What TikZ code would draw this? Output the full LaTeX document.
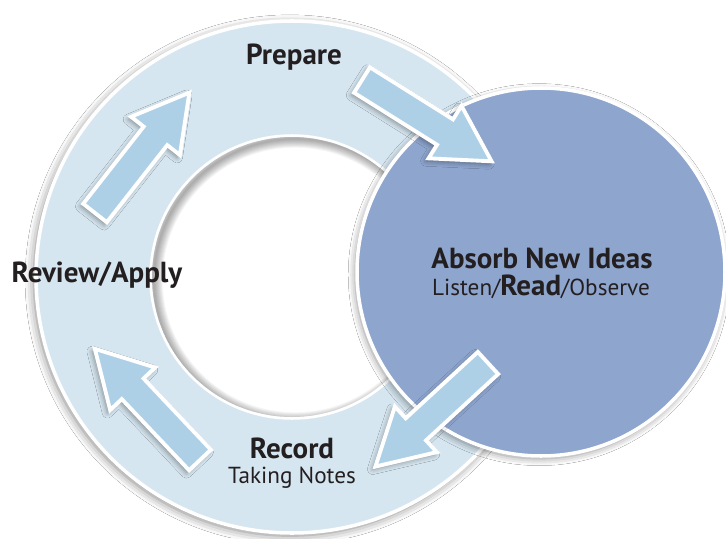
\documentclass[tikz,border=0pt]{standalone}
\usepackage{fontspec}
\setmainfont{PT Sans}
\usetikzlibrary{calc,shadows.blur}
\definecolor{ringblue}{RGB}{214,230,240}
\definecolor{arrowblue}{RGB}{174,208,230}
\definecolor{ideablue}{RGB}{142,165,206}
\definecolor{ink}{RGB}{35,31,32}
\begin{document}
\begin{tikzpicture}[x=0.02cm, y=0.02cm,
    ring/.style={draw=white, line width=2pt, fill=ringblue,
        blur shadow={shadow xshift=-1.2pt, shadow yshift=-1.5pt, shadow blur radius=5pt, shadow opacity=50}},
    hole/.style={draw=white, line width=2pt, fill=white},
    idea/.style={draw=white, line width=2pt, fill=ideablue,
        blur shadow={shadow xshift=-1pt, shadow yshift=-1.5pt, shadow blur radius=4pt, shadow opacity=45}},
    flow/.style={draw=white, line width=2.2pt, fill=arrowblue, line join=miter,
        blur shadow={shadow xshift=-1.5pt, shadow yshift=-1.5pt, shadow blur radius=3pt, shadow opacity=40}},
    title/.style={font=\fontsize{16.5}{19}\selectfont\bfseries, text=ink, anchor=base, inner sep=0pt},
    sub/.style={font=\fontsize{13.2}{16}\selectfont, text=ink, anchor=base, inner sep=0pt},
]
    \useasboundingbox (0,0) rectangle (726,538);
    \fill[white] (0,0) rectangle (726,538);

    % ring and its hole
    \coordinate (ringc) at (292,261);
    \draw[ring] (ringc) circle (256);
    \draw[hole] (ringc) circle (141);
    \begin{scope}
        \clip (ringc) circle (140);
        \foreach \s in {1,...,9}
            \draw[black, opacity=0.04, line width=\s*1.1pt] ($(ringc)+(3,-3)$) circle (141);
    \end{scope}

    % big circle
    \coordinate (ideac) at (541,266);
    \draw[idea] (ideac) circle (184);

    % arrows: tail x / tail y / angle
    \foreach \tx/\ty/\ang [count=\i] in {95/325/51.9, 362/458/-32.1, 488/175/-137.4, 200/78/133.4}{
        \coordinate (tail\i) at (\tx,\ty);
        \draw[flow] ($(tail\i)+(\ang-90:15)$) -- ($(tail\i)+(\ang:98)+(\ang-90:15)$)
            -- ($(tail\i)+(\ang:98)+(\ang-90:31)$) -- ($(tail\i)+(\ang:153)$)
            -- ($(tail\i)+(\ang:98)+(\ang+90:31)$) -- ($(tail\i)+(\ang:98)+(\ang+90:15)$)
            -- ($(tail\i)+(\ang+90:15)$) -- cycle;
    }

    % labels
    \node[title] (prepare) at (294,473) {Prepare};
    \node[title] (review) at (97,256) {Review/Apply};
    \node[title] (record) at (292,80) {Record};
    \node[sub] (notes) at (292,55) {Taking Notes};
    \node[title] (absorb) at (542,270) {Absorb New Ideas};
    \node[sub] (modes) at (541,243) {Listen/{\fontsize{16.5}{19}\selectfont\bfseries Read}/Observe};
\end{tikzpicture}
\end{document}
